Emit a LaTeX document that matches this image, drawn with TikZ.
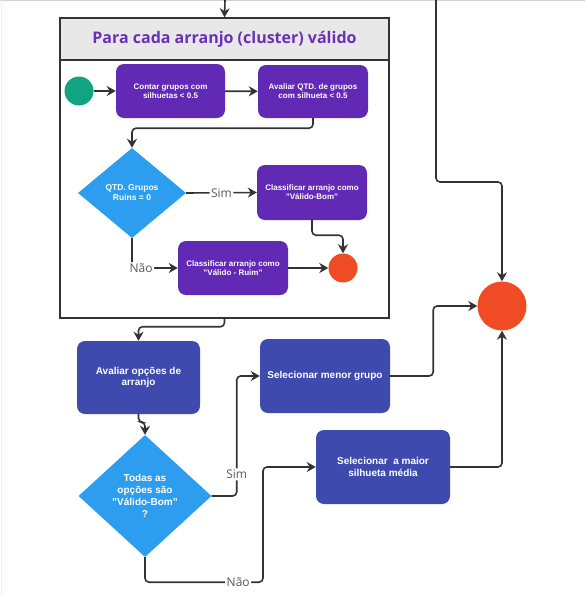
\documentclass[tikz,border=0pt]{standalone}
\usepackage{fontspec}
\setmainfont{Liberation Sans}
\newfontfamily\labelfont{Open Sans}
\usetikzlibrary{arrows.meta,positioning,shapes.geometric,calc}
\definecolor{actpurple}{RGB}{97,41,180}
\definecolor{selindigo}{RGB}{63,74,174}
\definecolor{decblue}{RGB}{45,157,239}
\definecolor{startgreen}{RGB}{18,163,131}
\definecolor{endred}{RGB}{239,75,36}
\definecolor{titlepurple}{RGB}{106,48,181}
\definecolor{headgray}{RGB}{232,232,232}
\definecolor{linegray}{RGB}{51,51,51}
\tikzset{
  actbox/.style={rectangle,rounded corners=8pt,fill=actpurple,text=white,align=center,
    font=\fontsize{8}{9}\selectfont\bfseries,inner sep=2pt,minimum width=110pt,minimum height=54pt},
  selbox/.style={actbox,fill=selindigo,font=\fontsize{10}{11.5}\selectfont\bfseries,minimum height=74pt},
  decide/.style={diamond,fill=decblue,text=white,align=center,inner sep=0pt,
    font=\fontsize{8.5}{10}\selectfont\bfseries},
  startdot/.style={circle,fill=startgreen,minimum size=29pt,inner sep=0pt},
  enddot/.style={circle,fill=endred,minimum size=29pt,inner sep=0pt},
  clusterhead/.style={rectangle,fill=headgray,draw=linegray,line width=1.5pt,minimum width=329pt,
    minimum height=42pt,text=titlepurple,font=\labelfont\fontsize{16}{18}\selectfont\bfseries},
  clusterframe/.style={rectangle,draw=linegray,line width=1.5pt,minimum width=329pt,minimum height=300pt},
  flow/.style={-{Stealth[length=9pt,width=10pt]},line width=1.6pt,draw=linegray,rounded corners=4pt},
  flowlabel/.style={font=\labelfont\fontsize{12}{13}\selectfont,text=black!65,fill=white,inner sep=1.5pt}
}
\begin{document}
\begin{tikzpicture}[x=1pt,y=-1pt]
  \useasboundingbox (0,0) rectangle (585,595);
  \draw[gray!35,line width=1.2pt] (0,0.6) -- (585,0.6);
  \draw[gray!12,line width=1pt] (1,0) -- (1,595);
  % cluster
  \node[clusterframe] (cluster) at (224.5,168) {};
  \node[clusterhead] (clhead) at (224.5,39) {Para cada arranjo (cluster) válido};
  \coordinate (intop) at (225,0);
  \coordinate (rtop) at (436,0);
  \node[startdot] (start) at (79,91) {};
  \node[actbox,minimum width=109pt] (contar) at (170.5,91) {Contar grupos com\\silhuetas < 0.5};
  \node[actbox,minimum height=53pt] (avaliar) at (313,91.5) {Avaliar QTD. de grupos\\com silhueta < 0.5};
  \node[decide,minimum width=108pt,minimum height=90pt] (ruins) at (132,193) {QTD. Grupos\\Ruins = 0};
  \node[actbox,minimum height=55pt] (bom) at (312,192.5) {Classificar arranjo como\\"Válido-Bom"};
  \node[actbox] (ruim) at (233,268) {Classificar arranjo como\\"Válido - Ruim"};
  \node[enddot] (fimcl) at (343,268) {};
  % outside
  \node[selbox,minimum width=123pt,minimum height=73pt] (opcoes) at (138.5,377.5) {Avaliar opções de\\arranjo};
  \node[decide,minimum width=133pt,minimum height=122pt,font=\fontsize{10}{12}\selectfont\bfseries] (todas) at (145,496)
    {Todas as\\opções são\\"Válido-Bom"\\?};
  \node[selbox,minimum width=130pt] (menor) at (325,376) {Selecionar menor grupo};
  \node[selbox,minimum width=134pt] (maior) at (383,467) {Selecionar\ \ a maior\\silhueta média};
  \node[enddot,minimum size=49pt] (fim) at (502,306) {};
  % connectors
  \draw[flow] (intop) -- (clhead.north);
  \draw[flow] (start) -- (contar);
  \draw[flow] (contar) -- (avaliar);
  \draw[flow] (avaliar.south) -- ++(0,10) -| (ruins.north);
  \draw[flow] (ruins.east) -- node[flowlabel]{Sim} (bom.west);
  \draw[flow] (bom.south) -- ++(0,15) -| (fimcl.north);
  \draw[flow] (ruins.south) |- node[flowlabel,pos=0.6]{Não} (ruim.west);
  \draw[flow] (ruim) -- (fimcl);
  \draw[flow] (cluster.south) -- ++(0,8) -| (opcoes.north);
  \draw[flow] (opcoes.south) -- ++(0,8) -| (todas.north);
  \draw[flow] (todas.east) -- ++(25,0) |- node[flowlabel,pos=0.09]{Sim} (menor.west);
  \draw[flow] (menor.east) -- ++(43,0) |- (fim.west);
  \draw[flow] (rtop) -- ++(0,182) -| (fim.north);
  \draw[flow] (todas.south) -- ++(0,25) -- node[flowlabel,pos=0.79]{Não} ++(118,0) |- (maior.west);
  \draw[flow] (maior.east) -| (fim.south);
\end{tikzpicture}
\end{document}
